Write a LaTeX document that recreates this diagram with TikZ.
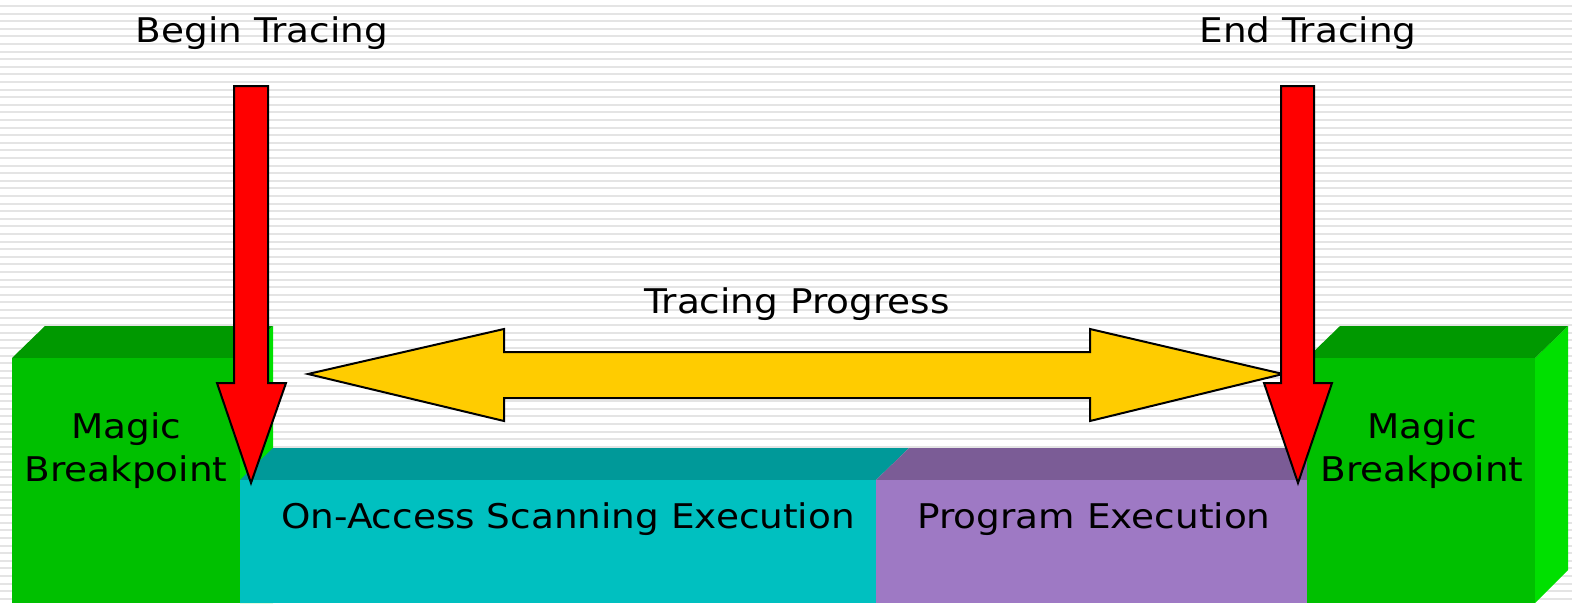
\documentclass[tikz,border=0pt]{standalone}
\usepackage{fontspec}
\setmainfont[FakeStretch=1.1]{DejaVu Sans}
\definecolor{stripe}{HTML}{E4E4E4}
\definecolor{gfront}{HTML}{00C000}
\definecolor{gtop}{HTML}{009900}
\definecolor{gside}{HTML}{00E000}
\definecolor{cfront}{HTML}{00C0C0}
\definecolor{ctop}{HTML}{009999}
\definecolor{pfront}{HTML}{9E79C4}
\definecolor{ptop}{HTML}{7B5C96}
\definecolor{yel}{HTML}{FFCC00}
\definecolor{redar}{HTML}{FF0000}
\tikzset{
  lbl/.style={font=\fontsize{34}{43}\selectfont, text=black, align=center, inner sep=0pt},
  outl/.style={draw=black, line width=2pt, line join=miter}
}
\begin{document}
\begin{tikzpicture}[x=1pt,y=-1pt]
\useasboundingbox (0,0) rectangle (1572,603);
\fill[white] (0,0) rectangle (1572,603);
\foreach \k in {0,...,79} {
  \fill[stripe] (0,{5+7.6*\k}) rectangle (1572,{7+7.6*\k});
}
% left cube
\fill[gside] (240,358) -- (273,326) -- (273,603) -- (240,603) -- cycle;
\fill[gtop] (12,358) -- (45,326) -- (273,326) -- (240,358) -- cycle;
\fill[gfront] (12,358) rectangle (240,603);
% cyan box
\fill[ctop] (240,480) -- (273,448) -- (909,448) -- (876,480) -- cycle;
\fill[cfront] (240,480) rectangle (876,603);
% purple box
\fill[ptop] (876,480) -- (909,448) -- (1340,448) -- (1307,480) -- cycle;
\fill[pfront] (876,480) rectangle (1307,603);
% right cube
\fill[gside] (1535,358) -- (1568,326) -- (1568,570) -- (1535,603) -- cycle;
\fill[gtop] (1307,358) -- (1340,326) -- (1568,326) -- (1535,358) -- cycle;
\fill[gfront] (1307,358) rectangle (1535,603);
% yellow double arrow
\filldraw[outl, fill=yel] (308,374) -- (504,329) -- (504,352) -- (1090,352) -- (1090,329) -- (1283,374)
  -- (1090,421) -- (1090,398) -- (504,398) -- (504,421) -- cycle;
% red arrows
\filldraw[outl, fill=redar] (234,86) -- (268,86) -- (268,383) -- (286,383) -- (251,483) -- (217,383) -- (234,383) -- cycle;
\filldraw[outl, fill=redar] (1281,86) -- (1314,86) -- (1314,383) -- (1332,383) -- (1298,483) -- (1264,383) -- (1281,383) -- cycle;
% texts
\node[lbl] (begin) at (262,33) {Begin Tracing};
\node[lbl] (end) at (1308,33) {End Tracing};
\node[lbl] (prog) at (797,304) {Tracing Progress};
\node[lbl] (mbl) at (126,451) {Magic\\Breakpoint};
\node[lbl] (mbr) at (1422,451) {Magic\\Breakpoint};
\node[lbl] (oas) at (568,519) {On-Access Scanning Execution};
\node[lbl] (pe) at (1094,519) {Program Execution};
\end{tikzpicture}
\end{document}
